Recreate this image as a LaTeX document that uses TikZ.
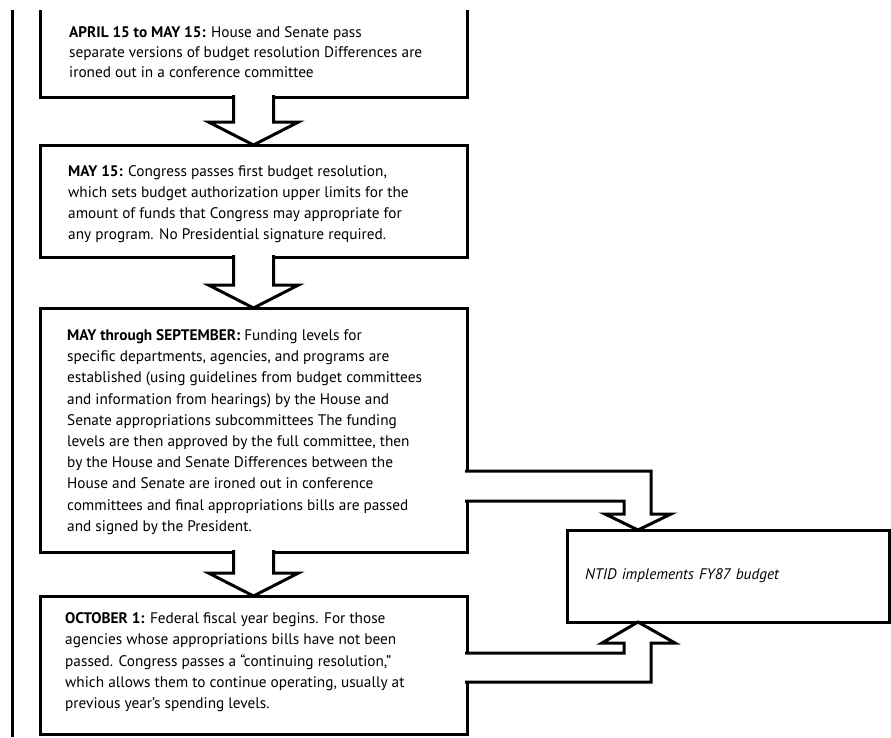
\documentclass[tikz,border=0pt]{standalone}
\usepackage{fontspec}
\setmainfont{PT Sans}
\usetikzlibrary{positioning,calc}
\tikzset{box/.style={draw,line width=3pt,outer sep=0pt,minimum width=427pt},txt/.style={anchor=west,inner sep=0pt,align=left,font=\fontsize{15.3}{21.2}\selectfont},blk/.style={draw,line width=3pt,fill=white,line join=miter},rule/.style={line width=3pt}}

\begin{document}
\begin{tikzpicture}[x=1pt,y=-1pt]
\useasboundingbox (0,0) rectangle (891,737);
\clip (0,10) rectangle (891,737);
\draw[rule] (12,0) -- (12,737);
\node[box,anchor=north west,minimum height=90pt] (b1) at (40,7) {};
\node[box,below=48pt of b1,minimum height=112pt] (b2) {};
\node[box,below=51pt of b2,minimum height=244pt] (b3) {};
\node[box,below=44pt of b3,minimum height=138.5pt] (b4) {};
\node[box,anchor=north west,minimum width=322pt,text width=286pt,inner xsep=18pt,minimum height=92pt,font=\fontsize{15.3}{21.2}\selectfont\itshape] (b5) at (567,530) {NTID implements FY87 budget};
\node[txt,font=\fontsize{15.3}{20}\selectfont] (t1) at ($(b1.west)+(29,0)$) {\textbf{APRIL 15 to MAY 15:} House and Senate pass\\separate versions of budget resolution Differences are\\ironed out in a conference committee};
\node[txt] (t2) at ($(b2.west)+(28,3)$) {\textbf{MAY 15:} Congress passes first budget resolution,\\which sets budget authorization upper limits for the\\amount of funds that Congress may appropriate for\\any program. No Presidential signature required.};
\node[txt] (t3) at ($(b3.west)+(27,2)$) {\textbf{MAY through SEPTEMBER:} Funding levels for\\specific departments, agencies, and programs are\\established (using guidelines from budget committees\\and information from hearings) by the House and\\Senate appropriations subcommittees The funding\\levels are then approved by the full committee, then\\by the House and Senate Differences between the\\House and Senate are ironed out in conference\\committees and final appropriations bills are passed\\and signed by the President.};
\node[txt] (t4) at ($(b4.west)+(25,-3)$) {\textbf{OCTOBER 1:} Federal fiscal year begins. For those\\agencies whose appropriations bills have not been\\passed. Congress passes a “continuing resolution,”\\which allows them to continue operating, usually at\\previous year’s spending levels.};
\foreach \a/\b in {b1/b2,b2/b3,b3/b4}
  \draw[blk] ($(\a.south)+(-20,-2)$) -- ($(\b.north)+(-20,-23)$) -- ++(-25,0) -- (\b.north) -- ++(45,-23) -- ++(-25,0) -- ($(\a.south)+(20,-2)$);
\coordinate (tA) at ($(b5.north west)+(71,0)$);
\coordinate (tB) at ($(b5.south west)+(71,0)$);
\coordinate (oA) at ($(b3.south east)+(-2,-81)$);
\coordinate (oB) at ($(b4.north east)+(-2,57)$);
\draw[blk] (oA) -| ($(tA)+(13,-16)$) -- ++(20,0) -- (tA) -- ++(-33,-16) -- ++(19,0) |- ($(oA)+(0,30)$);
\draw[blk] (oB) -| ($(tB)+(-14,21)$) -- ++(-22,0) -- (tB) -- ++(37,21) -- ++(-24,0) |- ($(oB)+(0,29)$);
\end{tikzpicture}
\end{document}
